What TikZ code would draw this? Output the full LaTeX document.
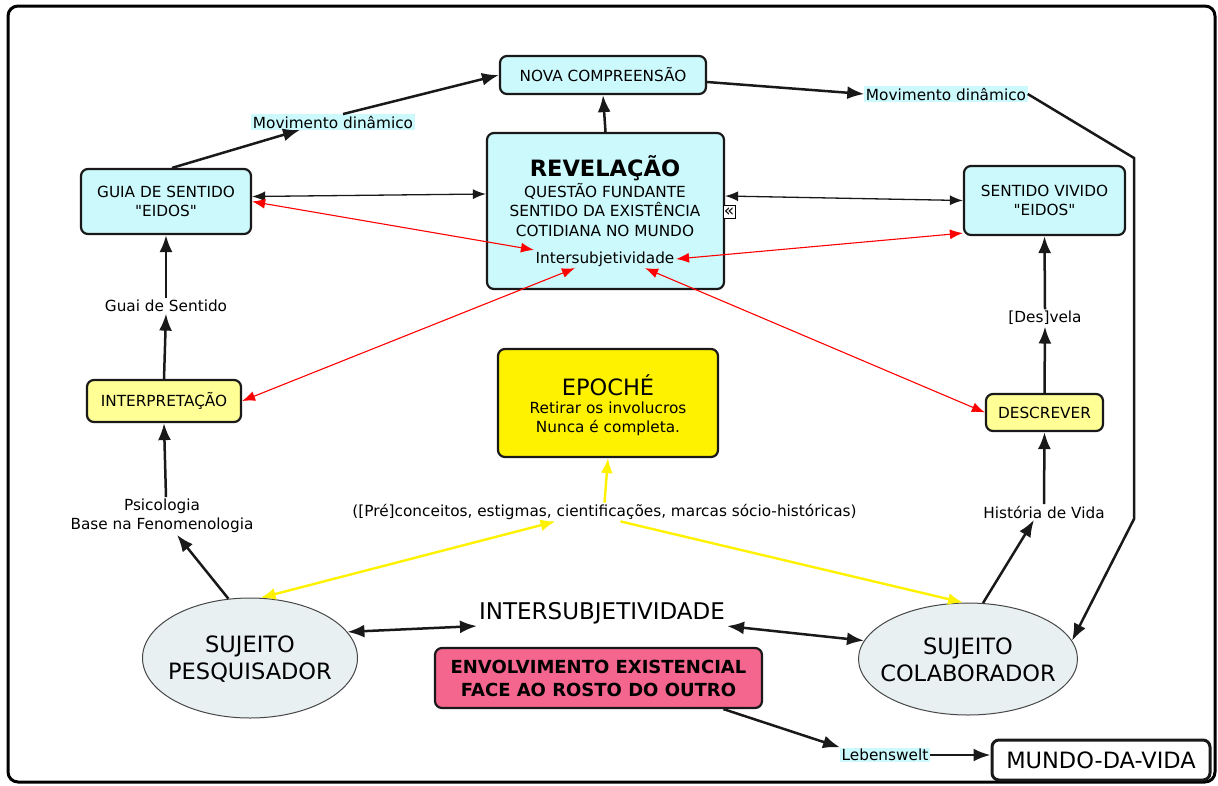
\documentclass[tikz,border=0pt]{standalone}
\usepackage{fontspec}
\setmainfont[Ligatures=TeXOff]{DejaVu Sans}
\usetikzlibrary{arrows.meta,shapes.geometric}
\definecolor{cmCiano}{RGB}{204,249,252}
\definecolor{cmAmarelo}{RGB}{255,255,150}
\definecolor{cmRosa}{RGB}{244,102,142}
\definecolor{cmNuvem}{RGB}{232,240,242}
\definecolor{cmTraco}{RGB}{25,25,25}
\newcommand\fsn{\fontsize{15.3}{19.5}\selectfont}
\newcommand\fsg{\fontsize{22.5}{27}\selectfont}
\tikzset{
  caixa/.style={draw=cmTraco,line width=2.2pt,rounded corners=7pt,fill=cmCiano,
    align=center,font=\fsn,inner sep=2pt},
  caixaama/.style={caixa,fill=cmAmarelo},
  rotulo/.style={font=\fsn,inner sep=1.5pt,align=center},
  rotulociano/.style={rotulo,fill=cmCiano},
  sujeito/.style={ellipse,draw=cmTraco!80,line width=1pt,fill=cmNuvem,inner sep=0pt},
  liga/.style={->,line width=2.5pt,cmTraco},
  ligadupla/.style={<->,line width=1.3pt,cmTraco,>={Latex[length=13pt,width=10pt]}},
  ligavermelha/.style={<->,line width=1.1pt,red,>={Latex[length=13pt,width=10pt]}},
  ligaamarela/.style={line width=2.4pt,yellow,>={Latex[length=15pt,width=12pt]}}
}
\begin{document}
\begin{tikzpicture}[x=1pt,y=-1pt,>={Latex[length=17pt,width=13pt]}]
\useasboundingbox (0,0) rectangle (1218,785);
% moldura
\draw[line width=3pt,rounded corners=10pt] (8,6) rectangle (1215,782);
%
% --- parte de cima ---
\node[caixa,minimum width=206pt,minimum height=38pt] (nova) at (603,75) {NOVA COMPREENSÃO};
\node[caixa,minimum width=237pt,minimum height=156pt] (revel) at (605.5,211) {};
\node[font=\fsg\bfseries,inner sep=0pt] (revtitulo) at (605,168) {REVELAÇÃO};
\node[rotulo,inner sep=0pt] (revtexto) at (605,210)
  {QUESTÃO FUNDANTE\\SENTIDO DA EXISTÊNCIA\\COTIDIANA NO MUNDO};
\node[rotulo] (intsub) at (605,259) {Intersubjetividade};
\node[draw,line width=1pt,fill=white,inner sep=0pt,minimum width=12pt,minimum height=13pt,
  font=\fontsize{17}{17}\selectfont] (icone) at (729,212) {«};
\node[caixa,minimum width=170pt,minimum height=65pt] (guia) at (166,201.5)
  {GUIA DE SENTIDO\\"EIDOS"};
\node[caixa,minimum width=161pt,minimum height=69pt] (vivido) at (1044.5,200.5)
  {SENTIDO VIVIDO\\"EIDOS"};
\node[rotulociano] (movesq) at (333,122) {Movimento dinâmico};
\node[rotulociano] (movdir) at (946,94) {Movimento dinâmico};
%
% --- lado esquerdo ---
\node[rotulo] (guai) at (166,306) {Guai de Sentido};
\node[caixaama,minimum width=154pt,minimum height=42pt] (interp) at (164,401) {INTERPRETAÇÃO};
\node[rotulo] (psico) at (162,516) {Psicologia\\Base na Fenomenologia};
%
% --- centro ---
\node[caixa,fill=yellow,minimum width=220pt,minimum height=108pt] (epoche) at (608,403) {};
\node[font=\fsg,inner sep=0pt] (epotitulo) at (608,385) {EPOCHÉ};
\node[rotulo,inner sep=0pt] (epotexto) at (608,419) {Retirar os involucros\\Nunca é completa.};
\node[rotulo] (pre) at (604.5,512)
  {([Pré]conceitos, estigmas, cientificações, marcas sócio-históricas)};
%
% --- lado direito ---
\node[rotulo] (desvela) at (1045,318) {[Des]vela};
\node[caixaama,minimum width=117pt,minimum height=37pt] (descr) at (1044.5,412.5) {DESCREVER};
\node[rotulo] (hist) at (1044,512) {História de Vida};
%
% --- parte de baixo ---
\node[sujeito,minimum width=215pt,minimum height=120pt] (pesq) at (250,658) {};
\node[font=\fsg,align=center,inner sep=0pt] (pesqtexto) at (250,659) {SUJEITO\\PESQUISADOR};
\node[sujeito,minimum width=219pt,minimum height=112pt] (colab) at (968,659) {};
\node[font=\fsg,align=center,inner sep=0pt] (colabtexto) at (968,660) {SUJEITO\\COLABORADOR};
\node[font=\fontsize{23}{27}\selectfont,inner sep=2pt] (inter) at (602,613) {INTERSUBJETIVIDADE};
\node[caixa,fill=cmRosa,minimum width=327pt,minimum height=60pt,
  font=\fontsize{18}{23}\selectfont\bfseries] (envolv) at (598.5,678)
  {ENVOLVIMENTO EXISTENCIAL\\FACE AO ROSTO DO OUTRO};
\node[rotulociano] (lebens) at (885,755) {Lebenswelt};
\node[caixa,fill=white,line width=3pt,minimum width=218pt,minimum height=40pt,
  font=\fsg] (mundo) at (1101,760) {MUNDO-DA-VIDA};
%
% ligacoes pretas
\draw[liga] ([xshift=6pt]guia.north) -- ([xshift=-33pt]movesq.south);
\draw[liga] ([xshift=10pt]movesq.north) -- (nova.west);
\draw[liga] (revel.north) -- (nova.south);
\draw[liga] ([yshift=-7pt]nova.east) -- (movdir.west);
\draw[liga] (movdir.east) -- (1134,158) -- (1134,519) -- (colab.10);
\draw[liga] (interp.north) -- (guai.south);
\draw[liga] (guai.north) -- (guia.south);
\draw[liga] ([xshift=4pt]psico.north) -- (interp.south);
\draw[liga] (pesq.110) -- ([xshift=15pt]psico.south);
\draw[liga] (colab.75) -- ([xshift=-10pt]hist.south);
\draw[liga] (hist.north) -- (descr.south);
\draw[liga] (descr.north) -- (desvela.south);
\draw[liga] (desvela.north) -- (vivido.south);
\draw[liga] ([xshift=125pt]envolv.south) -- (lebens.north west);
\draw[liga] (lebens.east) -- (lebens.east -| mundo.west);
% ligacoes duplas
\draw[ligadupla] ([yshift=5pt]guia.east) -- ([yshift=17pt]revel.west);
\draw[ligadupla] ([yshift=15pt]revel.east) -- (vivido.west);
\draw[liga,<->] (pesq.15) -- (inter.south west);
\draw[liga,<->] (inter.south east) -- (colab.170);
% vermelhas
\draw[ligavermelha] (guia.east) -- (intsub.north west);
\draw[ligavermelha] (intsub.east) -- ([yshift=3pt]vivido.south west);
\draw[ligavermelha] (interp.east) -- ([xshift=-30pt]intsub.south);
\draw[ligavermelha] ([xshift=40pt]intsub.south) -- (descr.west);
% amarelas
\draw[ligaamarela,->] (pre.north) -- (epoche.south);
\draw[ligaamarela,<->] ([xshift=-49pt]pre.south) -- (pesq.80);
\draw[ligaamarela,->] ([xshift=16pt]pre.south) -- (colab.95);
\end{tikzpicture}
\end{document}
